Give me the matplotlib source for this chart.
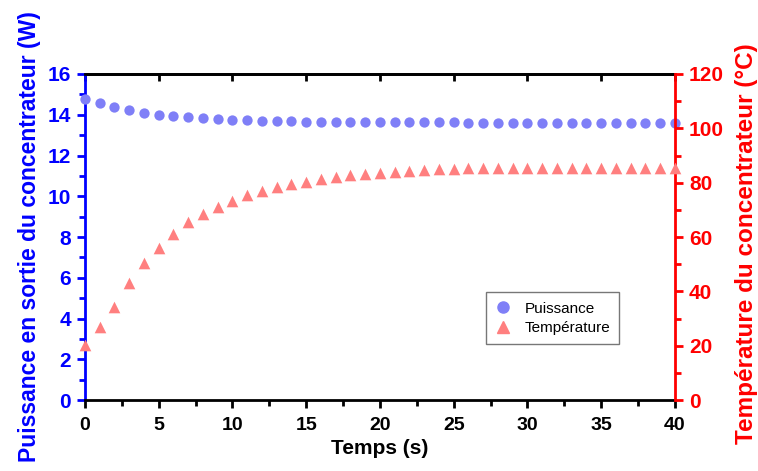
import matplotlib
matplotlib.use("Agg")
import matplotlib.pyplot as plt
from matplotlib.ticker import MultipleLocator
from matplotlib.lines import Line2D

plt.rcParams['font.family'] = ['Liberation Sans', 'DejaVu Sans']

temps = list(range(0, 41))
puissance = [14.75, 14.59, 14.40, 14.23, 14.10, 14.00, 13.93, 13.87, 13.82, 13.78,
             13.75, 13.73, 13.71, 13.69, 13.68, 13.66, 13.65, 13.65, 13.64, 13.64,
             13.63, 13.63, 13.62, 13.62, 13.62, 13.62, 13.61, 13.61, 13.61, 13.61,
             13.61, 13.61, 13.61, 13.61, 13.61, 13.61, 13.61, 13.61, 13.61, 13.61,
             13.61]
temperature = [20.2, 27.0, 34.2, 42.9, 50.3, 55.8, 61.1, 65.4, 68.5, 71.2,
               73.4, 75.4, 76.9, 78.4, 79.4, 80.4, 81.3, 82.0, 82.7, 83.2,
               83.7, 84.0, 84.4, 84.7, 85.0, 85.2, 85.3, 85.4, 85.4, 85.4,
               85.4, 85.4, 85.4, 85.4, 85.4, 85.4, 85.4, 85.4, 85.4, 85.4,
               85.4]

blue = '#7f7ff7'
red = '#ff7f7f'

fig = plt.figure(figsize=(7.58, 4.71), dpi=100)
ax = fig.add_axes([0.1121, 0.1507, 0.7784, 0.6922])
ax2 = ax.twinx()

ax.scatter(temps, puissance, s=55, marker='o', color=blue, linewidths=0, zorder=3, clip_on=False)
ax2.scatter(temps, temperature, s=70, marker='^', color=red, linewidths=0, zorder=3, clip_on=False)

ax.set_xlim(0, 40)
ax.set_ylim(0, 16)
ax2.set_ylim(0, 120)

ax.xaxis.set_major_locator(MultipleLocator(5))
ax.xaxis.set_minor_locator(MultipleLocator(2.5))
ax.yaxis.set_major_locator(MultipleLocator(2))
ax.yaxis.set_minor_locator(MultipleLocator(1))
ax2.yaxis.set_major_locator(MultipleLocator(20))
ax2.yaxis.set_minor_locator(MultipleLocator(10))

for sp in ['top', 'bottom']:
    ax.spines[sp].set_linewidth(2)
    ax.spines[sp].set_color('black')
ax.spines['left'].set_linewidth(2)
ax.spines['left'].set_color('blue')
ax2.spines['right'].set_linewidth(2)
ax2.spines['right'].set_color('red')
ax2.spines['left'].set_visible(False)
ax2.spines['top'].set_visible(False)
ax2.spines['bottom'].set_visible(False)
ax.spines['right'].set_visible(False)

ax.tick_params(axis='x', which='major', direction='out', length=6, width=2, colors='black',
               labelsize=14, pad=6)
ax.tick_params(axis='x', which='minor', direction='out', length=4, width=2, colors='black')
ax.tick_params(axis='y', which='major', direction='out', length=6, width=2, colors='blue',
               labelsize=15, pad=4)
ax.tick_params(axis='y', which='minor', direction='out', length=4, width=2, colors='blue')
ax2.tick_params(axis='y', which='major', direction='out', length=6, width=2, colors='red',
                labelsize=15, pad=4)
ax2.tick_params(axis='y', which='minor', direction='out', length=4, width=2, colors='red')

# top ticks: inward, major only, no labels
top = ax.secondary_xaxis('top')
top.xaxis.set_major_locator(MultipleLocator(5))
top.tick_params(axis='x', which='major', direction='in', length=5, width=2, colors='black',
                labeltop=False)
top.tick_params(axis='x', which='minor', length=0)
top.spines['top'].set_linewidth(2)

for lab in ax.get_xticklabels() + ax.get_yticklabels() + ax2.get_yticklabels():
    lab.set_fontweight('bold')

ax.set_xlabel('Temps (s)', fontsize=15, fontweight='bold', labelpad=4)
ax.set_ylabel('Puissance en sortie du concentrateur (W)', fontsize=16.5, fontweight='bold',
              color='blue', labelpad=5)
ax2.set_ylabel('Température du concentrateur (°C)', fontsize=17.5, fontweight='bold',
               color='red', labelpad=8)
ax2.yaxis.label.set_y(0.479)

handles = [Line2D([], [], marker='o', color=blue, linestyle='none', markersize=8),
           Line2D([], [], marker='^', color=red, linestyle='none', markersize=9)]
leg = ax2.legend(handles, ['Puissance', 'Température'], loc='upper left',
                 bbox_to_anchor=(0.68, 0.33), fontsize=11, frameon=True, fancybox=False,
                 edgecolor='#555555', handlelength=1.0, handletextpad=0.9,
                 borderpad=0.6, borderaxespad=0.0, labelspacing=0.35)
leg.get_frame().set_linewidth(1)

fig.savefig('out.png', dpi=100)
